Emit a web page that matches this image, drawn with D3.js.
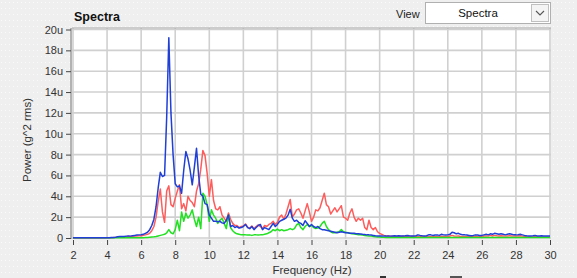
<!DOCTYPE html>
<html>
<head>
<meta charset="utf-8">
<script src="https://cdn.jsdelivr.net/npm/d3@7"></script>
<style>
  body { margin: 0; background: #f0f0f0; }
  svg { display: block; font-family: "Liberation Sans", Arial, sans-serif; }
</style>
</head>
<body>
<svg id="chart" width="577" height="278"></svg>
<script>
// spectra sampled every 0.125 Hz from 2 Hz to 30 Hz, values in u (g^2 rms)
var freqStart = 2, freqStep = 0.125;

var blue = [
  0.02,0.02,0.02,0.02,0.02,0.02,0.02,0.02,
  0.02,0.02,0.02,0.02,0.02,0.02,0.02,0.02,
  0.03,0.03,0.04,0.05,0.08,0.12,0.15,0.15,
  0.15,0.18,0.2,0.18,0.22,0.25,0.28,0.3,
  0.32,0.35,0.45,0.55,0.8,1.2,1.8,3.0,
  4.8,6.3,5.9,6.0,11.6,19.2,12.0,8.0,
  5.2,4.9,5.0,4.3,6.5,8.3,7.6,6.5,
  5.1,6.8,8.6,6.0,4.2,4.0,3.3,3.2,
  2.2,1.9,1.6,1.6,1.55,1.6,1.45,1.4,
  1.7,2.2,1.1,1.2,1.0,1.1,0.95,1.0,
  1.1,1.3,1.0,0.9,1.1,0.8,1.0,1.2,
  1.3,0.8,1.0,0.9,0.8,1.1,1.4,1.1,
  1.3,1.6,1.7,1.8,1.9,2.2,2.75,1.9,
  1.6,1.7,1.5,1.4,1.2,1.65,1.4,1.1,
  1.3,1.1,1.0,1.1,0.9,0.8,0.8,0.75,
  0.7,0.65,0.6,0.55,0.5,0.55,0.6,0.55,
  0.5,0.5,0.45,0.45,0.45,0.4,0.4,0.38,
  0.35,0.33,0.3,0.3,0.28,0.25,0.22,0.2,
  0.2,0.2,0.18,0.18,0.2,0.18,0.2,0.22,
  0.2,0.22,0.2,0.2,0.22,0.25,0.22,0.2,
  0.2,0.22,0.3,0.25,0.22,0.2,0.22,0.3,
  0.3,0.25,0.28,0.3,0.25,0.35,0.3,0.28,
  0.3,0.35,0.55,0.5,0.4,0.45,0.35,0.3,
  0.3,0.28,0.25,0.22,0.25,0.3,0.28,0.25,
  0.25,0.3,0.35,0.3,0.4,0.35,0.45,0.4,
  0.35,0.4,0.35,0.3,0.35,0.4,0.35,0.3,
  0.3,0.32,0.35,0.3,0.25,0.22,0.2,0.2,
  0.22,0.25,0.2,0.2,0.22,0.2,0.2,0.2,
  0.2
];

var red = [
  0.01,0.01,0.01,0.01,0.01,0.01,0.01,0.01,
  0.01,0.01,0.01,0.01,0.01,0.01,0.01,0.01,
  0.02,0.02,0.03,0.04,0.06,0.08,0.1,0.1,
  0.12,0.13,0.15,0.15,0.17,0.18,0.2,0.22,
  0.22,0.25,0.3,0.35,0.45,0.7,1.1,2.0,
  3.5,4.7,2.5,1.5,4.5,5.0,3.2,3.0,
  3.8,4.5,5.1,2.8,3.3,2.6,4.0,3.6,
  3.4,3.0,4.5,5.2,6.6,8.4,7.9,6.2,
  4.0,5.6,3.6,2.8,2.7,3.0,2.2,1.9,
  1.6,2.4,1.8,1.4,1.2,1.2,1.0,1.1,
  1.15,1.35,1.05,0.95,1.15,0.9,1.1,1.25,
  1.1,0.9,1.2,1.1,1.3,1.4,1.6,1.3,
  1.5,2.0,2.2,1.8,2.3,3.0,3.7,2.0,
  2.3,2.7,2.8,2.4,1.9,2.6,3.3,2.5,
  1.6,2.0,2.7,2.6,2.9,3.6,4.3,3.2,
  3.0,2.3,2.6,2.9,2.5,2.8,3.1,2.0,
  1.9,1.7,2.4,2.8,2.0,1.6,1.9,1.7,
  1.9,1.0,0.8,1.7,1.0,0.8,1.0,0.6,
  0.45,0.35,0.25,0.2,0.2,0.18,0.15,0.15,
  0.15,0.12,0.15,0.18,0.15,0.12,0.12,0.15,
  0.15,0.12,0.15,0.12,0.15,0.15,0.12,0.15,
  0.15,0.15,0.12,0.15,0.15,0.18,0.15,0.15,
  0.15,0.2,0.25,0.2,0.18,0.2,0.15,0.15,
  0.15,0.15,0.12,0.12,0.15,0.18,0.15,0.15,
  0.15,0.2,0.2,0.18,0.25,0.2,0.25,0.22,
  0.2,0.22,0.2,0.18,0.2,0.22,0.2,0.18,
  0.18,0.2,0.22,0.18,0.15,0.12,0.1,0.1,
  0.1,0.12,0.1,0.1,0.1,0.1,0.1,0.1,
  0.1
];

var green = [
  0.02,0.02,0.02,0.02,0.02,0.02,0.02,0.02,
  0.02,0.02,0.02,0.02,0.02,0.02,0.02,0.02,
  0.02,0.02,0.02,0.02,0.02,0.02,0.02,0.02,
  0.02,0.02,0.02,0.02,0.02,0.02,0.02,0.02,
  0.03,0.03,0.04,0.05,0.08,0.1,0.12,0.15,
  0.2,0.25,0.3,0.35,0.5,0.8,0.5,0.4,
  0.8,1.7,0.7,2.5,1.6,2.4,1.9,2.2,
  2.7,1.8,1.1,2.0,0.9,4.3,4.0,3.2,
  1.6,2.7,2.2,1.9,1.4,1.7,1.9,1.4,
  0.9,2.2,1.0,0.7,0.5,0.4,0.35,0.3,
  0.3,0.3,0.28,0.3,0.25,0.3,0.3,0.28,
  0.3,0.3,0.35,0.4,0.5,0.6,0.8,0.7,
  0.85,0.7,0.8,0.7,0.75,0.8,0.9,0.8,
  0.9,1.25,1.4,1.0,0.8,1.1,1.3,1.1,
  1.2,1.0,0.9,0.95,1.1,1.4,1.6,1.1,
  0.8,0.6,0.5,0.5,0.55,0.6,0.8,0.6,
  0.55,0.5,0.45,0.4,0.38,0.35,0.3,0.3,
  0.28,0.25,0.22,0.2,0.18,0.15,0.12,0.1,
  0.1,0.08,0.06,0.05,0.05,0.05,0.05,0.05,
  0.05,0.05,0.05,0.05,0.05,0.05,0.05,0.05,
  0.05,0.05,0.05,0.05,0.05,0.05,0.05,0.05,
  0.05,0.05,0.05,0.05,0.05,0.05,0.05,0.05,
  0.05,0.05,0.05,0.05,0.05,0.05,0.05,0.05,
  0.05,0.05,0.05,0.05,0.05,0.05,0.05,0.05,
  0.05,0.05,0.05,0.05,0.05,0.05,0.05,0.05,
  0.05,0.05,0.05,0.05,0.05,0.05,0.05,0.05,
  0.05,0.05,0.05,0.05,0.05,0.05,0.05,0.05,
  0.05,0.05,0.05,0.05,0.05,0.05,0.05,0.05,
  0.05
];

var xTicks = [2,4,6,8,10,12,14,16,18,20,22,24,26,28,30];
var yTicks = [0,2,4,6,8,10,12,14,16,18,20];

var svg = d3.select("#chart");

// dotted window background
var defs = svg.append("defs");
var pat = defs.append("pattern")
    .attr("id", "dots")
    .attr("width", 4).attr("height", 6)
    .attr("patternUnits", "userSpaceOnUse");
pat.append("rect").attr("width", 4).attr("height", 6).attr("fill", "#efefef");
pat.append("rect").attr("x", 1).attr("y", 2).attr("width", 1).attr("height", 1).attr("fill", "#fafafa");
svg.append("rect").attr("width", 577).attr("height", 278).attr("fill", "url(#dots)");

// plot box (don't call it "top", that's window.top)
var pLeft = 72, pRight = 551, pTop = 28, pBottom = 239;

var x = d3.scaleLinear().domain([2, 30]).range([73, 550]);
var y = d3.scaleLinear().domain([0, 20]).range([238, 29.5]);

defs.append("clipPath").attr("id", "clip")
  .append("rect")
    .attr("x", pLeft).attr("y", pTop)
    .attr("width", pRight - pLeft).attr("height", pBottom - pTop);

svg.append("rect")
    .attr("x", pLeft).attr("y", pTop)
    .attr("width", pRight - pLeft).attr("height", pBottom - pTop)
    .attr("fill", "#ffffff");

// grid
var grid = svg.append("g");
grid.selectAll(".vg").data(xTicks).enter().append("line")
    .attr("x1", d => x(d)).attr("x2", d => x(d))
    .attr("y1", pTop).attr("y2", pBottom)
    .attr("stroke", "#d0d0d0").attr("stroke-width", 1.6);
grid.selectAll(".hg").data(yTicks).enter().append("line")
    .attr("x1", pLeft).attr("x2", pRight)
    .attr("y1", d => y(d)).attr("y2", d => y(d))
    .attr("stroke", "#d0d0d0").attr("stroke-width", 1.6);

svg.append("line")
    .attr("x1", pLeft).attr("x2", pRight)
    .attr("y1", pTop).attr("y2", pTop)
    .attr("stroke", "#a8a8a8").attr("stroke-width", 1);

// series
var line = d3.line()
    .x((d, i) => x(freqStart + i * freqStep))
    .y(d => y(d));

var lines = svg.append("g").attr("clip-path", "url(#clip)");
[[red, "#ff5c5c"], [green, "#22e022"], [blue, "#1f3fd6"]].forEach(function(s) {
  lines.append("path")
      .datum(s[0])
      .attr("fill", "none")
      .attr("stroke", s[1])
      .attr("stroke-width", 1.5)
      .attr("stroke-linejoin", "round")
      .attr("d", line);
});

// axes
var yAxis = d3.axisLeft(y)
    .tickValues(yTicks)
    .tickSize(5)
    .tickPadding(3)
    .tickFormat(d => d === 0 ? "0" : d + "u");
var ya = svg.append("g").attr("transform", "translate(" + (pLeft - 1) + ",0)").call(yAxis);
ya.select(".domain").attr("stroke", "#777").attr("d", "M0," + pTop + "V" + pBottom);

var xAxis = d3.axisBottom(x)
    .tickValues(xTicks)
    .tickSize(5)
    .tickPadding(6);
var xa = svg.append("g").attr("transform", "translate(0," + (pBottom + 1) + ")").call(xAxis);
xa.select(".domain").remove();

svg.selectAll(".tick text").attr("font-size", 11).attr("fill", "#333")
    .attr("font-family", "Liberation Sans, Arial, sans-serif");
svg.selectAll(".tick line").attr("stroke", "#444");

// labels
svg.append("text")
    .attr("x", 74).attr("y", 21)
    .attr("font-size", 12.5).attr("font-weight", "bold").attr("fill", "#111")
    .text("Spectra");

svg.append("text")
    .attr("transform", "translate(31,140) rotate(-90)")
    .attr("text-anchor", "middle")
    .attr("font-size", 11.5).attr("fill", "#333")
    .text("Power (g^2 rms)");

svg.append("text")
    .attr("x", 312).attr("y", 274)
    .attr("text-anchor", "middle")
    .attr("font-size", 11.5).attr("fill", "#333")
    .text("Frequency (Hz)");

// view selector
svg.append("text")
    .attr("x", 396).attr("y", 18)
    .attr("font-size", 11).attr("fill", "#222")
    .text("View");
svg.append("rect")
    .attr("x", 425.5).attr("y", 2.5).attr("width", 125).attr("height", 21)
    .attr("fill", "#fff").attr("stroke", "#b0b0b0");
svg.append("text")
    .attr("x", 478).attr("y", 17)
    .attr("text-anchor", "middle")
    .attr("font-size", 11.5).attr("fill", "#111")
    .text("Spectra");
svg.append("rect")
    .attr("x", 531.5).attr("y", 4.5).attr("width", 17).attr("height", 17)
    .attr("fill", "#f4f4f4").attr("stroke", "#c0c0c0");
svg.append("path")
    .attr("d", "M536,11 L540,15 L544,11")
    .attr("fill", "none").attr("stroke", "#555").attr("stroke-width", 1.1);

// bits of controls cut off at the bottom edge
svg.append("rect").attr("x", 380).attr("y", 276).attr("width", 6).attr("height", 2).attr("fill", "#333");
svg.append("rect").attr("x", 450).attr("y", 276).attr("width", 12).attr("height", 2).attr("fill", "#555");
</script>
</body>
</html>
